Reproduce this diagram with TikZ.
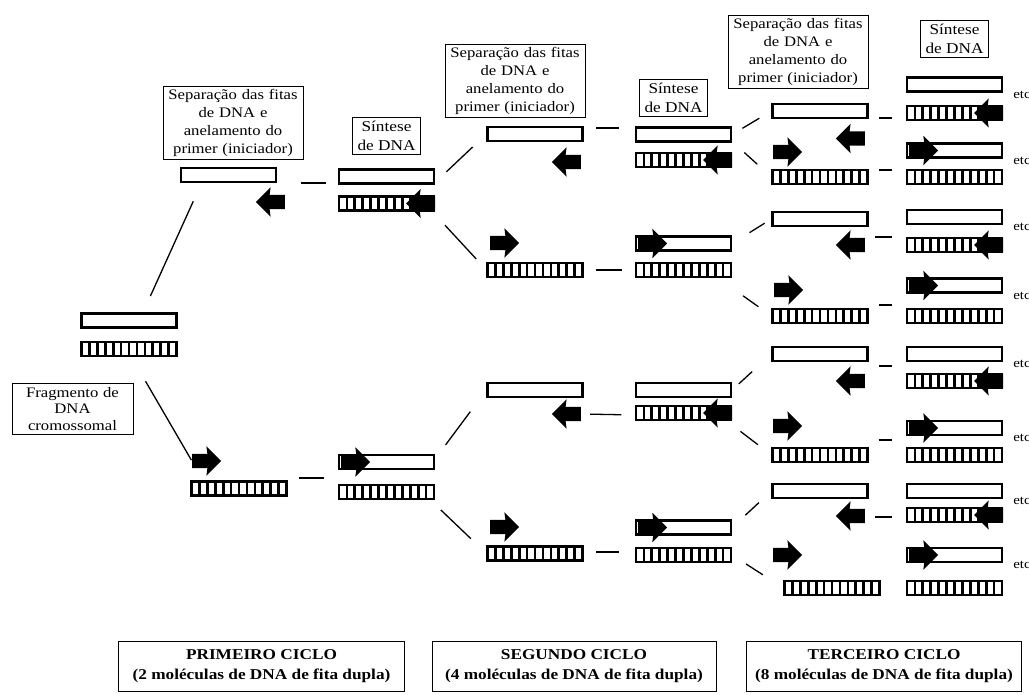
\documentclass[tikz,border=0pt]{standalone}
\usepackage{fontspec}
\setmainfont{Liberation Serif}[FakeStretch=1.15]
\usetikzlibrary{positioning, shapes.arrows}

\tikzset{
  fita/.style={draw, line width=2.2pt, fill=white, minimum width=95pt, minimum height=14pt, inner sep=0pt},
  fitah/.style={fita, path picture={\foreach \k in {1,...,11}
      \draw[line width=2.7pt] ([xshift=\k*7.92pt]path picture bounding box.south west) -- ([xshift=\k*7.92pt]path picture bounding box.north west);}},
  seta/.style={single arrow, fill=black, inner xsep=0pt, inner ysep=7pt, minimum height=29pt, single arrow head extend=7.5pt, single arrow head indent=1pt},
  setad/.style={seta},
  setae/.style={seta, shape border rotate=180},
  rotulo/.style={draw, line width=0.9pt, align=center, inner sep=3pt},
  traco/.style={line width=1.3pt},
  etc/.style={font=\fontsize{13}{14}\selectfont, anchor=west, inner sep=0pt}
}

\begin{document}
\begin{tikzpicture}[x=1pt, y=-1pt]
    \useasboundingbox (0,0) rectangle (1029,695);

    % fragmento original
    \node[fita] (oW) at (129,320.5) {};
    \node[fitah] (oH) at (129,349) {};
    \node[rotulo, text width=113pt, inner sep=4pt, font=\fontsize{14.5}{16.5}\selectfont] (frag) at (72.5,409) {Fragmento de\\DNA\\cromossomal};

    % primeiro ciclo
    \node[fita] (c1W) at (228.5,175) {};
    \node[setae] (c1Ae) at (274,202) {};
    \node[fita] (c1SW) at (386.5,176.5) {};
    \node[fitah] (c1SH) at (386.5,203.5) {};
    \node[setae] (c1Sae) at ([xshift=-11pt]c1SH.east) {};
    \node[setad] (c1Ad) at (203,461) {};
    \node[fitah] (c1H) at (239,488.5) {};
    \node[fita] (c1bSW) at (386.5,462) {};
    \node[setad] (c1bSad) at ([xshift=14pt]c1bSW.west) {};
    \node[fitah] (c1bSH) at (386.5,492) {};

    \node[rotulo, text width=134pt, font=\fontsize{14.5}{18}\selectfont, above=7pt of c1W, xshift=4.5pt] (sep1) {Separação das fitas\\de DNA e\\anelamento do\\primer (iniciador)};
    \node[rotulo, inner xsep=5pt, inner ysep=4pt, font=\fontsize{15}{19}\selectfont, above=13pt of c1SW] (sin1) {Síntese\\de DNA};

    % segundo ciclo
    \node[fita] (c2aW) at (535,134) {};
    \node[setae] (c2aAe) at (570,162) {};
    \node[fita] (c2aSW) at (683.5,134.5) {};
    \node[fitah] (c2aSH) at (683.5,160) {};
    \node[setae] (c2aSae) at ([xshift=-11pt]c2aSH.east) {};

    \node[setad] (c2bAd) at (501,243) {};
    \node[fitah] (c2bH) at (535,270) {};
    \node[fita] (c2bSW) at (683.5,243.5) {};
    \node[setad] (c2bSad) at ([xshift=14pt]c2bSW.west) {};
    \node[fitah] (c2bSH) at (683.5,270) {};

    \node[fita] (c2cW) at (535,390) {};
    \node[setae] (c2cAe) at (570,414) {};
    \node[fita] (c2cSW) at (683.5,390) {};
    \node[fitah] (c2cSH) at (683.5,413) {};
    \node[setae] (c2cSae) at ([xshift=-11pt]c2cSH.east) {};

    \node[setad] (c2dAd) at (501,527) {};
    \node[fitah] (c2dH) at (535,553.5) {};
    \node[fita] (c2dSW) at (683.5,527.5) {};
    \node[setad] (c2dSad) at ([xshift=14pt]c2dSW.west) {};
    \node[fitah] (c2dSH) at (683.5,555) {};

    \node[rotulo, text width=134pt, font=\fontsize{14.5}{18}\selectfont, above=8pt of c2aW, xshift=-20pt] (sep2) {Separação das fitas\\de DNA e\\anelamento do\\primer (iniciador)};
    \node[rotulo, inner xsep=5pt, inner ysep=4pt, font=\fontsize{15}{19}\selectfont, above=9pt of c2aSW, xshift=-10pt] (sin2) {Síntese\\de DNA};

    % terceiro ciclo
    \node[fita] (c3aW) at (820,111) {};
    \node[setae] (c3aAe) at (854,138.5) {};
    \node[fita] (c3aSW) at (954.5,84.5) {};
    \node[fitah] (c3aSH) at (954.5,113) {};
    \node[setae] (c3aSae) at ([xshift=-11pt]c3aSH.east) {};
    \node[setad] (c3bAd) at (784,152) {};
    \node[fitah] (c3bH) at (820,177) {};
    \node[fita] (c3bSW) at (954.5,150.5) {};
    \node[setad] (c3bSad) at ([xshift=14pt]c3bSW.west) {};
    \node[fitah] (c3bSH) at (954.5,177) {};

    \node[fita] (c3cW) at (820,219) {};
    \node[setae] (c3cAe) at (854,245) {};
    \node[fita] (c3cSW) at (954.5,217) {};
    \node[fitah] (c3cSH) at (954.5,245) {};
    \node[setae] (c3cSae) at ([xshift=-11pt]c3cSH.east) {};
    \node[setad] (c3dAd) at (785,290) {};
    \node[fitah] (c3dH) at (820,316) {};
    \node[fita] (c3dSW) at (954.5,285.5) {};
    \node[setad] (c3dSad) at ([xshift=14pt]c3dSW.west) {};
    \node[fitah] (c3dSH) at (954.5,316) {};

    \node[fita] (c3eW) at (820,354) {};
    \node[setae] (c3eAe) at (854,381) {};
    \node[fita] (c3eSW) at (954.5,354) {};
    \node[fitah] (c3eSH) at (954.5,381) {};
    \node[setae] (c3eSae) at ([xshift=-11pt]c3eSH.east) {};
    \node[setad] (c3fAd) at (784,426) {};
    \node[fitah] (c3fH) at (820,455) {};
    \node[fita] (c3fSW) at (954.5,428) {};
    \node[setad] (c3fSad) at ([xshift=14pt]c3fSW.west) {};
    \node[fitah] (c3fSH) at (954.5,455) {};

    \node[fita] (c3gW) at (820,491) {};
    \node[setae] (c3gAe) at (854,516) {};
    \node[fita] (c3gSW) at (954.5,491) {};
    \node[fitah] (c3gSH) at (954.5,515) {};
    \node[setae] (c3gSae) at ([xshift=-11pt]c3gSH.east) {};
    \node[setad] (c3hAd) at (784,555) {};
    \node[fitah] (c3hH) at (832,588) {};
    \node[fita] (c3hSW) at (954.5,555) {};
    \node[setad] (c3hSad) at ([xshift=14pt]c3hSW.west) {};
    \node[fitah] (c3hSH) at (954.5,588) {};

    \node[rotulo, text width=134pt, font=\fontsize{14.5}{18}\selectfont, above=13.5pt of c3aW, xshift=-22pt] (sep3) {Separação das fitas\\de DNA e\\anelamento do\\primer (iniciador)};
    \node[rotulo, inner xsep=5pt, inner ysep=4pt, font=\fontsize{15}{19}\selectfont, above=18pt of c3aSW] (sin3) {Síntese\\de DNA};

    % etc
    \foreach \m in {a,b,c,d,e,f,g,h}
        \node[etc] (etc\m) at ([xshift=10pt,yshift=-10pt]c3\m SW.east) {etc};

    % ligacoes
    \draw[traco, shorten <=18pt, shorten >=20pt] ([xshift=14pt]oW.north) -- ([xshift=-27pt]c1W.south);
    \draw[traco, shorten <=28pt, shorten >=1pt] ([xshift=2.5pt]oH.south) -- (c1Ad.west);
    \draw[traco, shorten <=23.5pt, shorten >=11.5pt] ([yshift=-8pt]c1W.east) -- ([yshift=-6.5pt]c1SW.west);
    \draw[traco, shorten <=11pt, shorten >=13.5pt] ([yshift=10.5pt]c1H.east) -- ([yshift=-16pt]c1bSW.west);

    \draw[traco, shorten <=15.5pt, shorten >=19pt] ([yshift=-6pt]c1SW.east) -- (c2aW.west);
    \draw[traco, shorten <=14.5pt, shorten >=15pt] ([yshift=-11pt]c1SH.east) -- (c2bH.west);
    \draw[traco, shorten <=17.5pt, shorten >=27pt] ([yshift=3pt]c1bSW.east) -- (c2cW.west);
    \draw[traco, shorten <=8pt, shorten >=21.5pt] ([yshift=-12.5pt]c1bSH.east) -- (c2dH.west);

    \draw[traco, shorten <=12pt, shorten >=15.5pt] ([yshift=6pt]c2aW.east) -- ([yshift=6.5pt]c2aSW.west);
    \draw[traco, shorten <=12pt, shorten >=13pt] (c2bH.east) -- (c2bSH.west);
    \draw[traco, shorten <=9pt, shorten >=13.5pt] (c2cAe.east) -- ([yshift=-2pt]c2cSH.west);
    \draw[traco, shorten <=12pt, shorten >=15.5pt] ([yshift=1.5pt]c2dH.east) -- ([yshift=3pt]c2dSH.west);

    \draw[traco, shorten <=12pt, shorten >=14pt] (c2aSW.east) -- (c3aW.west);
    \draw[traco, shorten <=16.5pt, shorten >=19pt] ([yshift=-7pt]c2aSW.east) -- (c3bH.west);
    \draw[traco, shorten <=20.5pt, shorten >=8pt] (c2bSW.east) -- (c3cW.west);
    \draw[traco, shorten <=13.5pt, shorten >=16pt] ([yshift=-18pt]c2bSH.east) -- (c3dH.west);
    \draw[traco, shorten <=9pt, shorten >=26pt] (c2cSW.east) -- (c3eW.west);
    \draw[traco, shorten <=10.5pt, shorten >=17pt] ([yshift=-12pt]c2cSH.east) -- (c3fH.west);
    \draw[traco, shorten <=18pt, shorten >=17pt] (c2dSW.east) -- (c3gW.west);
    \draw[traco, shorten <=16.5pt, shorten >=24.5pt] (c2dSH.east) -- (c3hH.west);

    \draw[traco, shorten <=10pt, shorten >=14pt] ([yshift=-7pt]c3aW.east) -- ([yshift=-5pt]c3aSH.west);
    \draw[traco, shorten <=10pt, shorten >=14pt] ([yshift=7pt]c3bH.east) -- ([yshift=7pt]c3bSH.west);
    \draw[traco, shorten <=10pt, shorten >=14pt] ([yshift=8pt]c3cAe.east) -- ([yshift=8pt]c3cSH.west);
    \draw[traco, shorten <=10pt, shorten >=14pt] ([yshift=11pt]c3dH.east) -- ([yshift=11pt]c3dSH.west);
    \draw[traco, shorten <=10pt, shorten >=14pt] ([yshift=-12pt]c3eW.east) -- ([yshift=-12pt]c3eSW.west);
    \draw[traco, shorten <=10pt, shorten >=14pt] ([yshift=15pt]c3fH.east) -- ([yshift=15pt]c3fSH.west);
    \draw[traco, shorten <=10pt, shorten >=14pt] ([yshift=-1pt]c3gAe.east) -- ([yshift=-2pt]c3gSH.west);

    % ciclos
    \node[rotulo, minimum width=286pt, minimum height=50pt, font=\fontsize{15}{20}\selectfont\bfseries] (ciclo1) at (261.5,666) {PRIMEIRO CICLO\\(2 moléculas de DNA de fita dupla)};
    \node[rotulo, minimum width=284pt, minimum height=50pt, font=\fontsize{15}{20}\selectfont\bfseries] (ciclo2) at (574,666) {SEGUNDO CICLO\\(4 moléculas de DNA de fita dupla)};
    \node[rotulo, minimum width=275pt, minimum height=50pt, font=\fontsize{15}{20}\selectfont\bfseries] (ciclo3) at (884,666) {TERCEIRO CICLO\\(8 moléculas de DNA de fita dupla)};
\end{tikzpicture}
\end{document}
